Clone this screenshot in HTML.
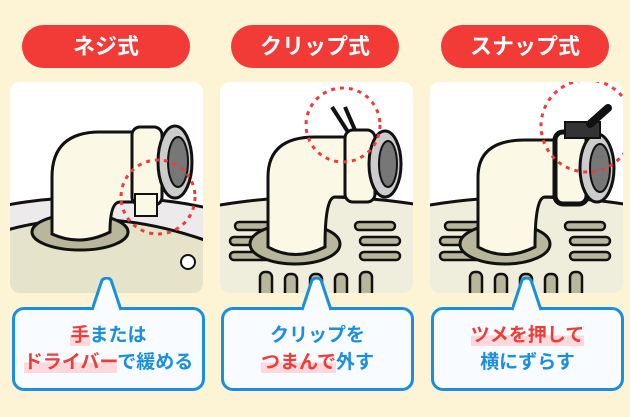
<!DOCTYPE html>
<html><head><meta charset="utf-8"><style>
body{margin:0;width:630px;height:417px;background:#fdf4d6;font-family:"Liberation Sans","Noto Sans CJK JP",sans-serif;position:relative;overflow:hidden}
.pill{position:absolute;top:25px;height:43px;width:168px;border-radius:22px;background:#f23a37;color:#fff;font-weight:bold;font-size:22px;text-align:center;line-height:43px}
.card{position:absolute;top:82px;width:193px;height:211px;border-radius:10px;background:#fff;overflow:hidden}
.call{position:absolute;top:307px;width:187px;border:3px solid #1a8fe0;border-radius:12px;background:#f8fbff;text-align:center;font-weight:bold;font-size:19px;color:#1a8fe0;line-height:27px;padding-top:12px;box-sizing:content-box;height:66px}
.r{color:#f23a37;background:linear-gradient(transparent 50%,#fdd8dc 50%)}
.tail{position:absolute;top:277px}
</style></head><body>
<div class="pill" style="left:22px">ネジ式</div>
<div class="pill" style="left:231px">クリップ式</div>
<div class="pill" style="left:441px">スナップ式</div>

<div class="card" style="left:10px"><svg width="193" height="211">
<ellipse cx="90" cy="185" rx="200" ry="70" fill="#eceaea" stroke="#111" stroke-width="3"/>
<path d="M-10 150 Q90 120 200 160 L200 230 L-10 230Z" fill="#e5e3c9" stroke="#111" stroke-width="3"/>
<ellipse cx="70" cy="150" rx="48" ry="18" fill="#b9b79b" stroke="#111" stroke-width="3"/>
<path d="M42 152 V95 Q42 50 90 50 H150 V120 H110 Q100 120 100 150 Q70 165 42 152Z" fill="#fbf8e6" stroke="#111" stroke-width="3"/>
<rect x="122" y="45" width="30" height="78" rx="8" fill="#fbf8e6" stroke="#111" stroke-width="3"/>
<ellipse cx="165" cy="80" rx="17" ry="36" fill="#ccc" stroke="#111" stroke-width="3"/>
<ellipse cx="168" cy="80" rx="10" ry="25" fill="#777" stroke="#111" stroke-width="2"/>
<rect x="125" y="112" width="22" height="22" fill="#fbf8e6" stroke="#111" stroke-width="2"/>
<circle cx="148" cy="115" r="37" fill="none" stroke="#f23a37" stroke-width="3" stroke-dasharray="4 5"/>
<circle cx="178" cy="180" r="7" fill="#fff" stroke="#111" stroke-width="2"/>
</svg></div>

<div class="card" style="left:220px"><svg width="193" height="211">
<ellipse cx="100" cy="175" rx="200" ry="60" fill="#efeddc" stroke="#111" stroke-width="3"/>
<g fill="#b9b79b" stroke="#111" stroke-width="2.5">
<rect x="15" y="140" width="40" height="8" rx="4"/><rect x="10" y="155" width="40" height="8" rx="4"/><rect x="10" y="170" width="40" height="8" rx="4"/>
<rect x="135" y="140" width="40" height="8" rx="4"/><rect x="140" y="155" width="40" height="8" rx="4"/><rect x="140" y="170" width="40" height="8" rx="4"/>
<rect x="40" y="190" width="12" height="25" rx="5"/><rect x="65" y="192" width="12" height="25" rx="5"/><rect x="90" y="192" width="12" height="25" rx="5"/><rect x="115" y="192" width="12" height="25" rx="5"/><rect x="140" y="190" width="12" height="25" rx="5"/>
</g>
<ellipse cx="75" cy="162" rx="45" ry="20" fill="#b9b79b" stroke="#111" stroke-width="3"/>
<path d="M48 165 V95 Q48 55 95 55 H150 V115 H115 Q105 115 105 165 Q75 180 48 165Z" fill="#fbf8e6" stroke="#111" stroke-width="3"/>
<rect x="125" y="48" width="30" height="72" rx="8" fill="#fbf8e6" stroke="#111" stroke-width="3"/>
<ellipse cx="165" cy="82" rx="16" ry="33" fill="#ccc" stroke="#111" stroke-width="3"/>
<ellipse cx="168" cy="82" rx="9" ry="23" fill="#777" stroke="#111" stroke-width="2"/>
<path d="M128 50 L112 25 M135 48 L125 25" stroke="#111" stroke-width="4" fill="none"/>
<circle cx="123" cy="43" r="37" fill="none" stroke="#f23a37" stroke-width="3" stroke-dasharray="4 5"/>
</svg></div>

<div class="card" style="left:430px"><svg width="193" height="211">
<ellipse cx="100" cy="175" rx="200" ry="60" fill="#efeddc" stroke="#111" stroke-width="3"/>
<g fill="#b9b79b" stroke="#111" stroke-width="2.5">
<rect x="15" y="140" width="40" height="8" rx="4"/><rect x="10" y="155" width="40" height="8" rx="4"/><rect x="10" y="170" width="40" height="8" rx="4"/>
<rect x="135" y="140" width="40" height="8" rx="4"/><rect x="140" y="155" width="40" height="8" rx="4"/><rect x="140" y="170" width="40" height="8" rx="4"/>
<rect x="40" y="190" width="12" height="25" rx="5"/><rect x="65" y="192" width="12" height="25" rx="5"/><rect x="90" y="192" width="12" height="25" rx="5"/><rect x="115" y="192" width="12" height="25" rx="5"/><rect x="140" y="190" width="12" height="25" rx="5"/>
</g>
<ellipse cx="75" cy="162" rx="45" ry="20" fill="#b9b79b" stroke="#111" stroke-width="3"/>
<path d="M48 165 V95 Q48 58 95 58 H150 V115 H115 Q105 115 105 165 Q75 180 48 165Z" fill="#fbf8e6" stroke="#111" stroke-width="3"/>
<rect x="125" y="50" width="32" height="72" rx="8" fill="#fbf8e6" stroke="#111" stroke-width="5"/>
<ellipse cx="167" cy="86" rx="17" ry="34" fill="#ccc" stroke="#111" stroke-width="3"/>
<ellipse cx="170" cy="86" rx="10" ry="24" fill="#777" stroke="#111" stroke-width="2"/>
<rect x="135" y="40" width="35" height="16" fill="#333" stroke="#111" stroke-width="2"/>
<path d="M160 42 L178 26" stroke="#111" stroke-width="8" stroke-linecap="round"/>
<circle cx="157" cy="44" r="46" fill="none" stroke="#f23a37" stroke-width="3" stroke-dasharray="4 5"/>
</svg></div>

<div class="call" style="left:12px"><span class="r">手</span>または<br><span class="r">ドライバー</span>で緩める</div>
<div class="call" style="left:221px">クリップを<br><span class="r">つまんで</span>外す</div>
<div class="call" style="left:431px"><span class="r">ツメを押して</span><br>横にずらす</div>

<svg class="tail" style="left:92px" width="30" height="36"><path d="M0 36 L0 33 L10 3 Q15 -1 19 3 L29 33 L29 36Z" fill="#f8fbff"/><path d="M0 33 L10 3 Q15 -1 19 3 L29 33" fill="none" stroke="#1a8fe0" stroke-width="3"/></svg>
<svg class="tail" style="left:302px" width="30" height="36"><path d="M0 36 L0 33 L10 3 Q15 -1 19 3 L29 33 L29 36Z" fill="#f8fbff"/><path d="M0 33 L10 3 Q15 -1 19 3 L29 33" fill="none" stroke="#1a8fe0" stroke-width="3"/></svg>
<svg class="tail" style="left:512px" width="30" height="36"><path d="M0 36 L0 33 L10 3 Q15 -1 19 3 L29 33 L29 36Z" fill="#f8fbff"/><path d="M0 33 L10 3 Q15 -1 19 3 L29 33" fill="none" stroke="#1a8fe0" stroke-width="3"/></svg>
</body></html>
